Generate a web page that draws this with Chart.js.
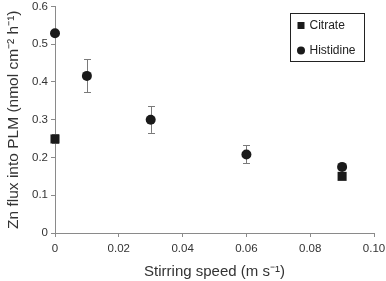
<!DOCTYPE html>
<html lang="en">
<head>
  <meta charset="UTF-8" />
  <title>Zn flux vs stirring speed</title>
  <script src="https://cdn.jsdelivr.net/npm/chart.js"></script>
  <style>
    html, body { margin: 0; padding: 0; background: #fff; }
    #wrap { width: 386px; height: 281px; position: relative; }
  </style>
</head>
<body>
  <div id="wrap"><canvas id="chart"></canvas></div>

  <script>
    // data
    const histSpeed = [0, 0.01, 0.03, 0.06, 0.09];
    const histFlux  = [0.529, 0.416, 0.300, 0.208, 0.175];
    const histLow   = [null, 0.373, 0.265, 0.185, null];
    const histHigh  = [null, 0.460, 0.335, 0.232, null];

    const citSpeed = [0, 0.09];
    const citFlux  = [0.249, 0.150];
    const citLow   = [0.238, null];
    const citHigh  = [0.262, null];

    const seriesNames = ['Citrate', 'Histidine'];
    const xTicks = [0, 0.02, 0.04, 0.06, 0.08, 0.10];
    const yTicks = [0, 0.1, 0.2, 0.3, 0.4, 0.5, 0.6];

    const toPoints = (xs, ys) => xs.map((x, i) => ({ x, y: ys[i] }));
    const font = "'Liberation Sans', Arial, sans-serif";

    // vertical error bars with caps
    const errorBars = {
      id: 'errorBars',
      beforeDatasetsDraw(chart) {
        const { ctx, scales: { x, y } } = chart;
        ctx.save();
        ctx.strokeStyle = '#7a7a7a';
        ctx.lineWidth = 1;
        chart.data.datasets.forEach(ds => {
          ds.data.forEach((p, i) => {
            if (ds.low[i] == null) return;
            const px = Math.round(x.getPixelForValue(p.x)) + 0.5;
            const lo = y.getPixelForValue(ds.low[i]);
            const hi = y.getPixelForValue(ds.high[i]);
            ctx.beginPath();
            ctx.moveTo(px, lo); ctx.lineTo(px, hi);
            ctx.moveTo(px - 3.5, Math.round(lo) + 0.5); ctx.lineTo(px + 3.5, Math.round(lo) + 0.5);
            ctx.moveTo(px - 3.5, Math.round(hi) + 0.5); ctx.lineTo(px + 3.5, Math.round(hi) + 0.5);
            ctx.stroke();
          });
        });
        ctx.restore();
      }
    };

    // boxed legend inside the plot, upper right
    const boxLegend = {
      id: 'boxLegend',
      afterDraw(chart) {
        const { ctx } = chart;
        const left = 290.5, top = 13.5, w = 74, h = 48;
        ctx.save();
        ctx.strokeStyle = '#222';
        ctx.lineWidth = 1;
        ctx.strokeRect(left, top, w, h);
        ctx.font = '12px ' + font;
        ctx.textBaseline = 'middle';
        chart.data.datasets.forEach((ds, i) => {
          const cy = top + 12 + i * 25;
          ctx.fillStyle = '#1a1a1a';
          if (ds.pointStyle === 'rect') {
            ctx.fillRect(left + 7, cy - 3.5, 7, 7);
          } else {
            ctx.beginPath();
            ctx.arc(left + 10.5, cy, 4, 0, Math.PI * 2);
            ctx.fill();
          }
          ctx.fillStyle = '#222';
          ctx.fillText(ds.label, left + 19, cy);
        });
        ctx.restore();
      }
    };

    new Chart(document.getElementById('chart'), {
      type: 'scatter',
      data: {
        datasets: [
          {
            label: seriesNames[0],
            data: toPoints(citSpeed, citFlux),
            low: citLow, high: citHigh,
            pointStyle: 'rect',
            pointRadius: 6.4,
            backgroundColor: '#1a1a1a',
            borderColor: '#1a1a1a',
            borderWidth: 0,
            clip: false
          },
          {
            label: seriesNames[1],
            data: toPoints(histSpeed, histFlux),
            low: histLow, high: histHigh,
            pointStyle: 'circle',
            pointRadius: 5,
            backgroundColor: '#1a1a1a',
            borderColor: '#1a1a1a',
            borderWidth: 0,
            clip: false
          }
        ]
      },
      options: {
        responsive: true,
        maintainAspectRatio: false,
        animation: false,
        layout: { padding: { top: 5, right: 12, left: 0, bottom: 0 } },
        plugins: {
          legend: { display: false },
          tooltip: { enabled: false }
        },
        scales: {
          x: {
            type: 'linear',
            min: 0, max: 0.1,
            afterBuildTicks: s => { s.ticks = xTicks.map(v => ({ value: v })); },
            afterFit: s => { s.height = 48; s.paddingLeft = 0; s.paddingRight = 0; },
            border: { color: '#8a8a8a', width: 1 },
            grid: { drawOnChartArea: false, tickLength: 4, color: '#8a8a8a' },
            ticks: {
              color: '#333', padding: 5,
              font: { family: font, size: 11.5 },
              maxRotation: 0,
              callback: v => v === 0 ? '0' : v.toFixed(2)
            },
            title: {
              display: true, text: 'Stirring speed (m s\u207B\u00B9)',
              color: '#333', font: { family: font, size: 15 },
              padding: { top: 6, bottom: 0 }
            }
          },
          y: {
            type: 'linear',
            min: 0, max: 0.6,
            afterBuildTicks: s => { s.ticks = yTicks.map(v => ({ value: v })); },
            afterFit: s => { s.width = 55; s.paddingTop = 0; s.paddingBottom = 0; },
            border: { color: '#8a8a8a', width: 1 },
            grid: { drawOnChartArea: false, tickLength: 4, color: '#8a8a8a' },
            ticks: {
              color: '#333', padding: 3,
              font: { family: font, size: 11.5 },
              callback: v => v === 0 ? '0' : v.toFixed(1)
            },
            title: {
              display: true, text: 'Zn flux into PLM (nmol cm\u207B\u00B2 h\u207B\u00B9)',
              color: '#333', font: { family: font, size: 15.5 },
              padding: { top: 4, bottom: 2 }
            }
          }
        }
      },
      plugins: [errorBars, boxLegend]
    });
  </script>
</body>
</html>
